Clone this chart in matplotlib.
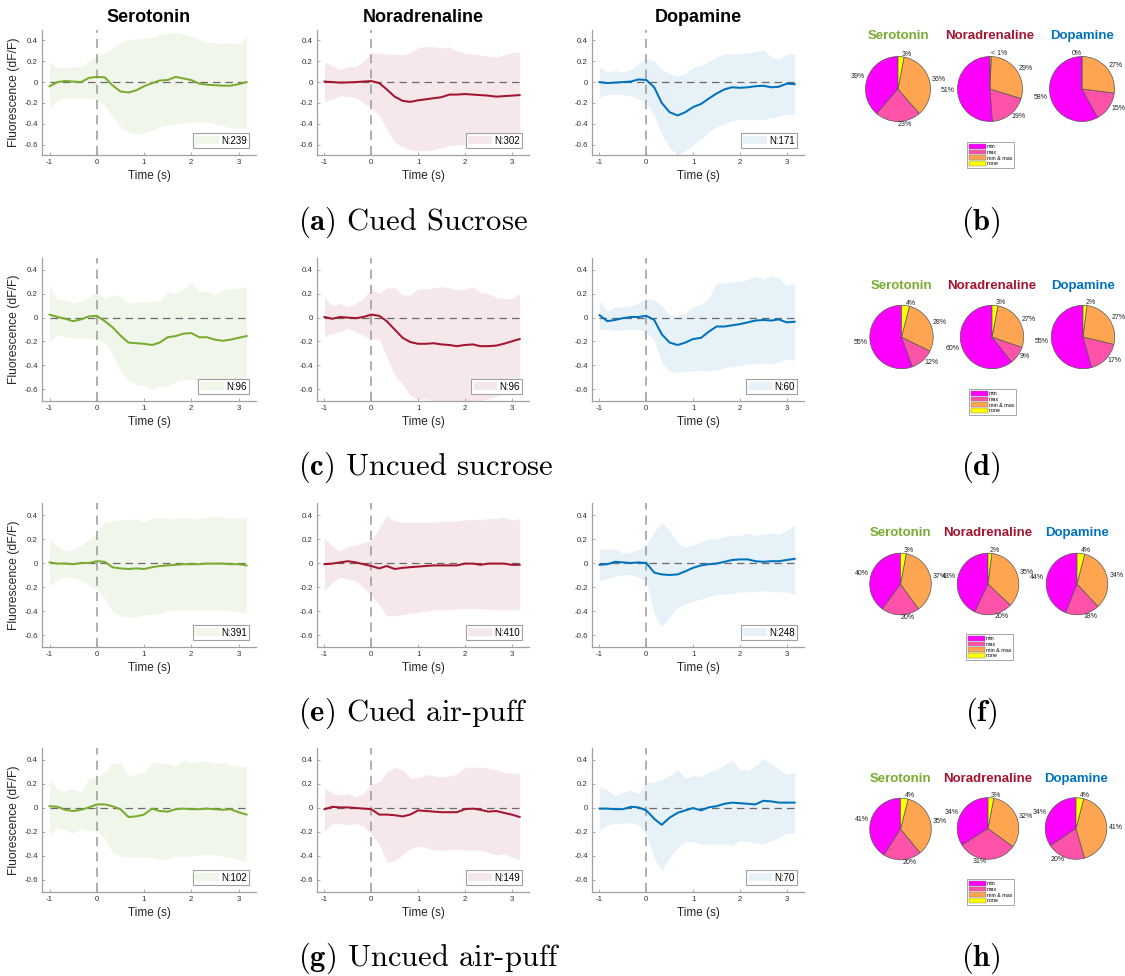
import numpy as np
import matplotlib
matplotlib.use('Agg')
import matplotlib.pyplot as plt
from matplotlib.patches import Patch

plt.rcParams['font.family'] = ['Liberation Sans', 'DejaVu Sans']
plt.rcParams['mathtext.fontset'] = 'cm'

# ---------------- data ----------------
t = [-1.0, -0.83, -0.67, -0.5, -0.33, -0.17, 0.0, 0.17, 0.33, 0.5, 0.67, 0.83, 1.0,
     1.17, 1.33, 1.5, 1.67, 1.83, 2.0, 2.17, 2.33, 2.5, 2.67, 2.83, 3.0, 3.17]

# (a) Cued sucrose
ser_a_mean = [-0.04, 0.0, 0.01, 0.005, 0.0, 0.04, 0.05, 0.045, -0.03, -0.09, -0.1, -0.08, -0.04,
              -0.01, 0.015, 0.02, 0.05, 0.035, 0.02, -0.015, -0.025, -0.03, -0.035, -0.035, -0.02, 0.0]
ser_a_hi = [0.19, 0.14, 0.14, 0.15, 0.15, 0.2, 0.26, 0.28, 0.32, 0.38, 0.41, 0.41, 0.42,
            0.43, 0.45, 0.47, 0.48, 0.46, 0.44, 0.41, 0.38, 0.38, 0.37, 0.38, 0.37, 0.44]
ser_a_lo = [-0.25, -0.17, -0.15, -0.15, -0.15, -0.15, -0.17, -0.22, -0.33, -0.43, -0.48, -0.5, -0.49,
            -0.46, -0.43, -0.41, -0.4, -0.39, -0.38, -0.38, -0.38, -0.4, -0.42, -0.44, -0.44, -0.44]
nor_a_mean = [0.005, 0.0, -0.005, -0.003, 0.0, 0.005, 0.01, -0.01, -0.07, -0.14, -0.18, -0.19, -0.175,
              -0.165, -0.155, -0.145, -0.12, -0.12, -0.115, -0.12, -0.125, -0.13, -0.14, -0.135, -0.13, -0.125]
nor_a_hi = [0.19, 0.16, 0.12, 0.15, 0.15, 0.2, 0.28, 0.28, 0.27, 0.27, 0.26, 0.28, 0.33,
            0.34, 0.34, 0.33, 0.34, 0.3, 0.28, 0.27, 0.26, 0.25, 0.24, 0.26, 0.28, 0.29]
nor_a_lo = [-0.19, -0.16, -0.13, -0.14, -0.15, -0.2, -0.25, -0.32, -0.45, -0.58, -0.62, -0.65, -0.66,
            -0.66, -0.65, -0.63, -0.61, -0.6, -0.6, -0.6, -0.58, -0.57, -0.55, -0.55, -0.53, -0.52]
dop_a_mean = [0.0, -0.01, -0.005, 0.0, 0.005, 0.025, 0.02, -0.05, -0.2, -0.29, -0.32, -0.29, -0.24,
              -0.21, -0.16, -0.11, -0.07, -0.05, -0.055, -0.05, -0.04, -0.035, -0.05, -0.045, -0.015, -0.02]
dop_a_hi = [0.14, 0.1, 0.11, 0.1, 0.12, 0.17, 0.23, 0.2, 0.12, 0.08, 0.06, 0.08, 0.14,
            0.16, 0.2, 0.24, 0.27, 0.27, 0.27, 0.28, 0.29, 0.31, 0.24, 0.22, 0.27, 0.27]
dop_a_lo = [-0.14, -0.12, -0.12, -0.12, -0.13, -0.16, -0.2, -0.32, -0.5, -0.63, -0.7, -0.66, -0.6,
            -0.55, -0.48, -0.43, -0.4, -0.37, -0.36, -0.36, -0.36, -0.36, -0.34, -0.33, -0.31, -0.31]

# (c) Uncued sucrose
ser_c_mean = [0.025, 0.005, -0.01, -0.03, -0.015, 0.01, 0.015, -0.03, -0.08, -0.15, -0.21, -0.215, -0.22,
              -0.23, -0.21, -0.165, -0.155, -0.135, -0.13, -0.165, -0.165, -0.185, -0.195, -0.185, -0.17, -0.155]
ser_c_hi = [0.27, 0.15, 0.15, 0.12, 0.14, 0.17, 0.22, 0.16, 0.19, 0.18, 0.12, 0.13, 0.13,
            0.14, 0.14, 0.22, 0.2, 0.24, 0.29, 0.22, 0.22, 0.19, 0.23, 0.24, 0.25, 0.26]
ser_c_lo = [-0.21, -0.14, -0.16, -0.17, -0.17, -0.17, -0.18, -0.21, -0.3, -0.45, -0.53, -0.56, -0.57,
            -0.6, -0.58, -0.57, -0.54, -0.52, -0.52, -0.53, -0.53, -0.52, -0.51, -0.53, -0.53, -0.52]
nor_c_mean = [0.005, -0.01, 0.005, 0.0, -0.005, 0.005, 0.025, 0.015, -0.03, -0.1, -0.17, -0.205, -0.22,
              -0.22, -0.215, -0.225, -0.23, -0.24, -0.23, -0.225, -0.24, -0.24, -0.235, -0.22, -0.2, -0.18]
nor_c_hi = [0.17, 0.1, 0.12, 0.09, 0.12, 0.16, 0.24, 0.2, 0.25, 0.25, 0.19, 0.19, 0.24,
            0.24, 0.25, 0.26, 0.25, 0.23, 0.24, 0.26, 0.21, 0.2, 0.17, 0.16, 0.16, 0.2]
nor_c_lo = [-0.16, -0.13, -0.12, -0.09, -0.12, -0.15, -0.18, -0.18, -0.33, -0.48, -0.56, -0.65, -0.69,
            -0.68, -0.7, -0.71, -0.72, -0.72, -0.72, -0.72, -0.7, -0.68, -0.66, -0.64, -0.6, -0.55]
dop_c_mean = [0.02, -0.03, -0.02, -0.005, 0.005, 0.005, 0.015, -0.02, -0.14, -0.21, -0.23, -0.21, -0.18,
              -0.17, -0.12, -0.075, -0.075, -0.065, -0.055, -0.04, -0.025, -0.02, -0.025, -0.015, -0.04, -0.035]
dop_c_hi = [0.14, 0.05, 0.09, 0.09, 0.1, 0.12, 0.16, 0.15, 0.1, 0.02, 0.01, 0.04, 0.09,
            0.11, 0.16, 0.29, 0.29, 0.3, 0.3, 0.32, 0.35, 0.32, 0.35, 0.33, 0.27, 0.29]
dop_c_lo = [-0.1, -0.1, -0.11, -0.1, -0.1, -0.1, -0.12, -0.19, -0.38, -0.45, -0.46, -0.45, -0.45,
            -0.44, -0.45, -0.44, -0.42, -0.41, -0.4, -0.39, -0.39, -0.38, -0.39, -0.37, -0.35, -0.36]

# (e) Cued air-puff
ser_e_mean = [0.005, -0.005, -0.005, -0.01, 0.0, 0.0, 0.015, 0.01, -0.035, -0.045, -0.05, -0.045, -0.05,
              -0.035, -0.025, -0.02, -0.015, -0.01, -0.01, -0.01, -0.005, -0.005, -0.005, -0.01, -0.01, -0.02]
ser_e_hi = [0.19, 0.14, 0.1, 0.11, 0.15, 0.19, 0.26, 0.34, 0.35, 0.36, 0.36, 0.37, 0.34,
            0.37, 0.38, 0.37, 0.37, 0.38, 0.37, 0.37, 0.38, 0.39, 0.38, 0.37, 0.38, 0.38]
ser_e_lo = [-0.19, -0.14, -0.12, -0.12, -0.14, -0.18, -0.22, -0.3, -0.4, -0.44, -0.45, -0.45, -0.43,
            -0.43, -0.42, -0.4, -0.39, -0.39, -0.39, -0.39, -0.39, -0.39, -0.39, -0.4, -0.4, -0.42]
nor_e_mean = [-0.01, -0.005, 0.005, 0.015, 0.005, -0.01, -0.025, -0.045, -0.025, -0.05, -0.04, -0.035, -0.03,
              -0.025, -0.02, -0.02, -0.02, -0.02, -0.005, -0.005, -0.015, -0.005, -0.005, -0.005, -0.015, -0.015]
nor_e_hi = [0.21, 0.14, 0.1, 0.14, 0.15, 0.17, 0.19, 0.29, 0.39, 0.35, 0.34, 0.34, 0.34,
            0.34, 0.34, 0.35, 0.35, 0.35, 0.36, 0.36, 0.36, 0.37, 0.37, 0.38, 0.36, 0.37]
nor_e_lo = [-0.23, -0.16, -0.12, -0.13, -0.15, -0.2, -0.27, -0.35, -0.44, -0.44, -0.43, -0.42, -0.41,
            -0.4, -0.39, -0.39, -0.39, -0.38, -0.38, -0.38, -0.38, -0.39, -0.39, -0.39, -0.39, -0.39]
dop_e_mean = [-0.015, -0.01, 0.01, 0.005, 0.0, 0.005, 0.0, -0.08, -0.095, -0.1, -0.095, -0.07, -0.04,
              -0.02, -0.01, -0.005, 0.01, 0.025, 0.03, 0.03, 0.015, 0.01, 0.015, 0.015, 0.025, 0.035]
dop_e_hi = [0.12, 0.11, 0.12, 0.08, 0.09, 0.11, 0.15, 0.26, 0.34, 0.27, 0.17, 0.13, 0.15,
            0.18, 0.2, 0.2, 0.22, 0.23, 0.23, 0.25, 0.23, 0.24, 0.25, 0.24, 0.27, 0.32]
dop_e_lo = [-0.15, -0.13, -0.11, -0.1, -0.1, -0.12, -0.15, -0.42, -0.53, -0.45, -0.37, -0.34, -0.32,
            -0.3, -0.28, -0.26, -0.26, -0.25, -0.24, -0.24, -0.24, -0.23, -0.24, -0.24, -0.24, -0.26]

# (g) Uncued air-puff
ser_g_mean = [0.015, 0.01, -0.015, -0.025, -0.015, 0.005, 0.03, 0.03, 0.015, -0.01, -0.075, -0.07, -0.055,
              -0.005, -0.025, -0.03, -0.01, -0.005, -0.01, -0.01, -0.005, -0.01, -0.015, -0.01, -0.035, -0.055]
ser_g_hi = [0.24, 0.16, 0.14, 0.16, 0.13, 0.25, 0.25, 0.3, 0.37, 0.38, 0.27, 0.28, 0.3,
            0.38, 0.38, 0.37, 0.35, 0.4, 0.38, 0.39, 0.39, 0.37, 0.38, 0.36, 0.35, 0.34]
ser_g_lo = [-0.22, -0.16, -0.18, -0.21, -0.17, -0.19, -0.19, -0.26, -0.37, -0.4, -0.41, -0.41, -0.41,
            -0.41, -0.43, -0.42, -0.4, -0.4, -0.4, -0.39, -0.39, -0.39, -0.4, -0.41, -0.43, -0.45]
nor_g_mean = [-0.01, 0.01, 0.005, 0.005, 0.0, -0.005, -0.01, -0.055, -0.055, -0.06, -0.07, -0.055, -0.02,
              -0.025, -0.03, -0.035, -0.035, -0.035, -0.01, -0.005, -0.015, -0.03, -0.025, -0.04, -0.055, -0.075]
nor_g_hi = [0.17, 0.12, 0.11, 0.12, 0.09, 0.12, 0.2, 0.22, 0.3, 0.34, 0.32, 0.25, 0.25,
            0.28, 0.27, 0.26, 0.27, 0.28, 0.34, 0.34, 0.34, 0.33, 0.32, 0.3, 0.29, 0.29]
nor_g_lo = [-0.19, -0.13, -0.13, -0.14, -0.13, -0.15, -0.22, -0.3, -0.45, -0.44, -0.39, -0.34, -0.32,
            -0.33, -0.35, -0.35, -0.35, -0.34, -0.35, -0.35, -0.35, -0.37, -0.39, -0.38, -0.41, -0.43]
dop_g_mean = [-0.005, -0.005, -0.01, -0.01, 0.01, 0.005, -0.02, -0.09, -0.14, -0.08, -0.04, -0.02, 0.0,
              -0.02, 0.005, 0.015, 0.035, 0.045, 0.04, 0.035, 0.03, 0.06, 0.055, 0.045, 0.045, 0.045]
dop_g_hi = [0.18, 0.15, 0.1, 0.13, 0.15, 0.12, 0.21, 0.22, 0.24, 0.27, 0.32, 0.25, 0.27,
            0.26, 0.3, 0.32, 0.36, 0.4, 0.32, 0.31, 0.35, 0.41, 0.37, 0.32, 0.28, 0.3]
dop_g_lo = [-0.19, -0.14, -0.13, -0.13, -0.12, -0.14, -0.22, -0.42, -0.52, -0.41, -0.33, -0.28, -0.28,
            -0.3, -0.3, -0.3, -0.3, -0.31, -0.27, -0.28, -0.29, -0.3, -0.27, -0.25, -0.21, -0.21]

n_cued_sucrose = [239, 302, 171]
n_uncued_sucrose = [96, 96, 60]
n_cued_airpuff = [391, 410, 248]
n_uncued_airpuff = [102, 149, 70]

neurotransmitters = ['Serotonin', 'Noradrenaline', 'Dopamine']
pie_categories = ['min', 'max', 'min & max', 'none']

# pie values (min, max, min&max, none) and label texts
pie_b = [[39, 23, 36, 3], [51, 19, 29, 0.6], [58, 15, 27, 0]]
pie_b_labels = [['39%', '23%', '36%', '3%'], ['51%', '19%', '29%', '< 1%'], ['58%', '15%', '27%', '0%']]
pie_d = [[55, 12, 28, 4], [60, 9, 27, 3], [55, 17, 27, 2]]
pie_f = [[40, 20, 37, 3], [43, 20, 35, 2], [44, 18, 34, 4]]
pie_h = [[41, 20, 35, 4], [34, 31, 32, 3], [34, 20, 41, 4]]

captions = ['$\\mathbf{(a)}$ Cued Sucrose', '$\\mathbf{(c)}$ Uncued sucrose',
            '$\\mathbf{(e)}$ Cued air-puff', '$\\mathbf{(g)}$ Uncued air-puff']
pie_captions = ['(b)', '(d)', '(f)', '(h)']

# ---------------- styling ----------------
line_colors = ['#77AC30', '#A2142F', '#0072BD']
band_colors = ['#F1F6EA', '#F6E8EA', '#E6F1F8']
pie_colors = ['#FF00FF', '#FF52A9', '#FFA552', '#FFFF00']

W, H = 1125, 976
fig = plt.figure(figsize=(W / 100, H / 100), dpi=100)


def fbox(x0, y0, x1, y1):
    return [x0 / W, 1 - y1 / H, (x1 - x0) / W, (y1 - y0) / H]


col_x = [(42, 256), (317, 529), (592, 804)]
row_y = [(30, 155), (258, 401), (503, 647), (748, 892)]

rows = [
    [(ser_a_mean, ser_a_lo, ser_a_hi), (nor_a_mean, nor_a_lo, nor_a_hi), (dop_a_mean, dop_a_lo, dop_a_hi)],
    [(ser_c_mean, ser_c_lo, ser_c_hi), (nor_c_mean, nor_c_lo, nor_c_hi), (dop_c_mean, dop_c_lo, dop_c_hi)],
    [(ser_e_mean, ser_e_lo, ser_e_hi), (nor_e_mean, nor_e_lo, nor_e_hi), (dop_e_mean, dop_e_lo, dop_e_hi)],
    [(ser_g_mean, ser_g_lo, ser_g_hi), (nor_g_mean, nor_g_lo, nor_g_hi), (dop_g_mean, dop_g_lo, dop_g_hi)],
]
row_n = [n_cued_sucrose, n_uncued_sucrose, n_cued_airpuff, n_uncued_airpuff]

spine_col = '#a0a0a0'
for r in range(4):
    for c in range(3):
        mean, lo, hi = rows[r][c]
        ax = fig.add_axes(fbox(col_x[c][0], row_y[r][0], col_x[c][1], row_y[r][1]))
        ax.fill_between(t, lo, hi, color=band_colors[c], lw=0, label=f'N:{row_n[r][c]}')
        ax.axvline(0, color='#9a9a9a', ls=(0, (6, 4)), lw=1.1, zorder=2)
        ax.hlines(0, t[0], t[-1], color='#6a6a6a', ls=(0, (6, 4)), lw=0.9, zorder=2)
        ax.plot(t, mean, color=line_colors[c], lw=1.45, zorder=3)
        ax.set_xlim(-1.16, 3.37)
        ax.set_ylim(-0.7, 0.5)
        ax.set_xticks([-1, 0, 1, 2, 3])
        ax.set_xticklabels(['-1', '0', '1', '2', '3'])
        ax.set_yticks([-0.6, -0.4, -0.2, 0, 0.2, 0.4])
        ax.set_yticklabels(['-0.6', '-0.4', '-0.2', '0', '0.2', '0.4'])
        for s in ['top', 'right']:
            ax.spines[s].set_visible(False)
        for s in ['left', 'bottom']:
            ax.spines[s].set_color(spine_col)
            ax.spines[s].set_linewidth(0.9)
        ax.tick_params(direction='in', length=2.5, width=0.6, color=spine_col,
                       labelsize=5.7, labelcolor='#333333', pad=3)
        ax.set_xlabel('Time (s)', fontsize=8.5, color='#262626', labelpad=3)
        if c == 0:
            ax.set_ylabel('Fluorescence (dF/F)', fontsize=8.7, color='#262626', labelpad=3)
        leg = ax.legend(loc='lower right', fontsize=7, frameon=True, fancybox=False,
                        edgecolor='#a0a0a0', framealpha=1, handlelength=2.4, handleheight=0.9,
                        borderpad=0.25, borderaxespad=0.7, handletextpad=0.25)
        leg.get_frame().set_linewidth(0.8)
        if r == 0:
            fig.text((col_x[c][0] + col_x[c][1]) / 2 / W, 1 - 18 / H, neurotransmitters[c],
                     ha='center', va='center', fontsize=13, fontweight='bold', color='black')

# ---------------- captions ----------------
caption_y = [222, 467, 713, 958]
for r in range(4):
    fig.text(298 / W, 1 - caption_y[r] / H, captions[r], fontfamily='cmr10', fontsize=22,
             ha='left', va='center', color='black')
    fig.text(981 / W, 1 - caption_y[r] / H, '$\\mathbf{' + pie_captions[r] + '}$', fontsize=22,
             ha='center', va='center', color='black')

# ---------------- pies ----------------
pie_sets = [pie_b, pie_d, pie_f, pie_h]
pie_labels = [pie_b_labels,
              [[f'{v}%' for v in vals] for vals in pie_d],
              [[f'{v}%' for v in vals] for vals in pie_f],
              [[f'{v}%' for v in vals] for vals in pie_h]]
pie_centers = [
    [(898, 89), (990, 89), (1082, 89)],
    [(901.5, 337), (992, 337), (1083, 337)],
    [(900.5, 584), (988, 584), (1077, 584)],
    [(900.5, 829), (988, 828.5), (1076, 828.5)],
]
pie_r = [32.5, 31.7, 30.8, 30.8]
pie_title_y = [36, 286, 533, 779]
pie_leg_box = [(967, 142), (969, 389), (966, 634), (967, 879)]

for r in range(4):
    for c in range(3):
        cx, cy = pie_centers[r][c]
        rad = pie_r[r]
        ax = fig.add_axes(fbox(cx - rad, cy - rad, cx + rad, cy + rad))
        ax.pie(pie_sets[r][c], labels=pie_labels[r][c], colors=pie_colors, startangle=90,
               counterclock=True, radius=1.0, labeldistance=1.08,
               wedgeprops=dict(edgecolor='#555555', linewidth=0.5),
               textprops=dict(fontsize=5.0, color='#222222'))
        ax.set_xlim(-1, 1)
        ax.set_ylim(-1, 1)
        ax.set_aspect('equal')
        ax.axis('off')
        fig.text(cx / W, 1 - pie_title_y[r] / H, neurotransmitters[c], ha='center', va='center',
                 fontsize=9.5, fontweight='bold', color=line_colors[c])
    handles = [Patch(facecolor=pie_colors[i], edgecolor='#777777', linewidth=0.3,
                     label=pie_categories[i]) for i in range(4)]
    lx, ly = pie_leg_box[r]
    leg = fig.legend(handles=handles, loc='upper left', bbox_to_anchor=(lx / W, 1 - ly / H),
                     fontsize=3.8, frameon=True, fancybox=False, edgecolor='#999999', framealpha=1,
                     handlelength=3.2, handleheight=1.0, labelspacing=0.12, borderpad=0.35,
                     borderaxespad=0, handletextpad=0.15)
    leg.get_frame().set_linewidth(0.6)

fig.savefig('out.png', dpi=100)
